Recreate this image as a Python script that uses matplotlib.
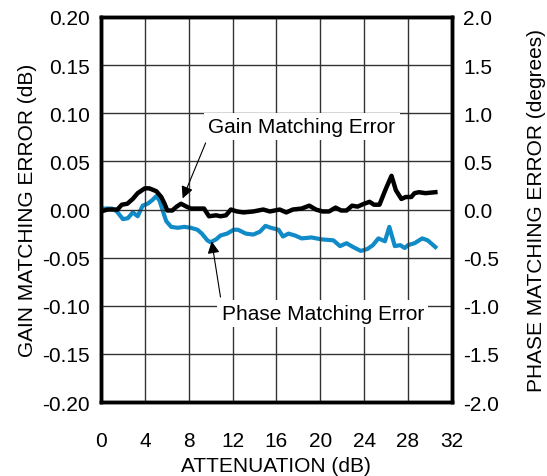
import matplotlib
matplotlib.use("Agg")
import matplotlib.pyplot as plt

plt.rcParams['font.family'] = ['Liberation Sans', 'DejaVu Sans']

# Attenuation steps (dB) and gain matching error (dB)
gain_x = [0, 0.6, 1.5, 1.9, 2.4, 2.9, 3.35, 4, 4.4, 5.05, 5.5, 5.8, 6.05, 6.5, 6.9,
          7.3, 7.8, 8.2, 8.8, 9.4, 9.85, 10.5, 10.9, 11.4, 11.85, 12.4, 13, 13.9, 14.8,
          15.4, 16.3, 16.9, 17.5, 18.3, 19, 19.6, 20.2, 20.8, 21.4, 21.9, 22.4, 22.9,
          23.4, 24, 24.5, 24.9, 25.4, 26, 26.5, 26.9, 27.4, 27.8, 28.3, 28.6, 29, 29.6, 30.5]
gain_err = [-0.002, 0, 0, 0.005, 0.006, 0.011, 0.017, 0.022, 0.022, 0.019, 0.013, 0.006,
            -0.001, -0.001, 0.003, 0.006, 0.003, 0.001, 0.001, 0.001, -0.007, -0.006,
            -0.007, -0.006, 0, -0.002, -0.003, -0.002, 0, -0.002, 0, -0.003, 0, 0.001,
            0.004, 0, -0.002, -0.002, 0.002, -0.001, -0.001, 0.004, 0.003, 0.006, 0.008,
            0.005, 0.005, 0.022, 0.035, 0.02, 0.011, 0.013, 0.013, 0.017, 0.018, 0.017, 0.018]

# Phase matching error (degrees)
phase_x = [0, 1, 1.45, 2, 2.45, 2.9, 3.35, 3.8, 4.25, 4.7, 5.05, 5.35, 5.6, 5.95, 6.4,
           7, 7.6, 8.2, 8.8, 9.2, 9.7, 10, 10.5, 10.9, 11.5, 12.1, 12.5, 13.2, 13.9,
           14.5, 15, 15.5, 16.2, 16.6, 17.1, 17.7, 18.3, 19.2, 20.1, 21.2, 21.8, 22.4,
           23, 23.7, 24.3, 24.8, 25.3, 25.9, 26.3, 26.8, 27.3, 27.7, 28, 28.6, 29.3, 29.8, 30.5]
phase_err = [0.01, 0.01, -0.02, -0.10, -0.09, -0.03, -0.07, 0.04, 0.06, 0.10, 0.14, 0.09,
             0.0, -0.12, -0.18, -0.19, -0.18, -0.19, -0.21, -0.25, -0.32, -0.34, -0.31,
             -0.27, -0.25, -0.21, -0.21, -0.25, -0.26, -0.23, -0.17, -0.19, -0.21, -0.28,
             -0.25, -0.27, -0.30, -0.29, -0.31, -0.32, -0.38, -0.35, -0.39, -0.43, -0.41,
             -0.37, -0.30, -0.33, -0.18, -0.38, -0.37, -0.40, -0.37, -0.35, -0.30, -0.32, -0.39]

x_ticks = [0, 4, 8, 12, 16, 20, 24, 28, 32]
gain_ticks = [-0.20, -0.15, -0.10, -0.05, 0.00, 0.05, 0.10, 0.15, 0.20]
phase_ticks = [-2.0, -1.5, -1.0, -0.5, 0.0, 0.5, 1.0, 1.5, 2.0]

fs = 15

fig = plt.figure(figsize=(5.47, 4.77), dpi=100)
ax = fig.add_axes([0.1846, 0.155, 0.6414, 0.8073])
ax2 = ax.twinx()

# phase on the right axis
ax2.plot(phase_x, phase_err, color='#118bc8', linewidth=3, solid_joinstyle='round')
ax2.set_ylim(-2.0, 2.0)
ax2.set_yticks(phase_ticks)
ax2.set_yticklabels(['%.1f' % v for v in phase_ticks])
ax2.set_ylabel('PHASE MATCHING ERROR (degrees)', fontsize=fs, labelpad=20)

# gain on the left axis, drawn on top
ax.set_zorder(ax2.get_zorder() + 1)
ax.patch.set_visible(False)
ax.plot(gain_x, gain_err, color='black', linewidth=3.2, solid_joinstyle='round')
ax.set_xlim(0, 32)
ax.set_ylim(-0.20, 0.20)
ax.set_xticks(x_ticks)
ax.set_yticks(gain_ticks)
ax.set_yticklabels(['%.2f' % v for v in gain_ticks])
ax.grid(True, color='#333333', linewidth=1)
ax.set_axisbelow(True)
ax.set_xlabel('ATTENUATION (dB)', fontsize=fs, labelpad=4)
ax.set_ylabel('GAIN MATCHING ERROR (dB)', fontsize=fs, labelpad=4)

for a in (ax, ax2):
    a.tick_params(labelsize=fs, length=0, pad=8)
    for s in a.spines.values():
        s.set_linewidth(2.5)
        s.set_color('black')
ax.tick_params(axis='x', pad=21)

# annotations
ax.annotate('Gain Matching Error', xy=(7.45, 0.0115), xytext=(9.8, 0.086),
            fontsize=fs, va='center', ha='left',
            bbox=dict(boxstyle='square,pad=0.2', fc='white', ec='none'),
            arrowprops=dict(arrowstyle='-|>', color='black', lw=0.8,
                            mutation_scale=18, shrinkA=2, shrinkB=0,
                            relpos=(0.0, 0.0)))
ax.annotate('Phase Matching Error', xy=(10.1, -0.033), xytext=(11.0, -0.108),
            fontsize=fs, va='center', ha='left',
            bbox=dict(boxstyle='square,pad=0.2', fc='white', ec='none'),
            arrowprops=dict(arrowstyle='-|>', color='black', lw=0.8,
                            mutation_scale=18, shrinkA=2, shrinkB=0,
                            relpos=(0.0, 1.0)))

plt.savefig('out.png', dpi=100)
